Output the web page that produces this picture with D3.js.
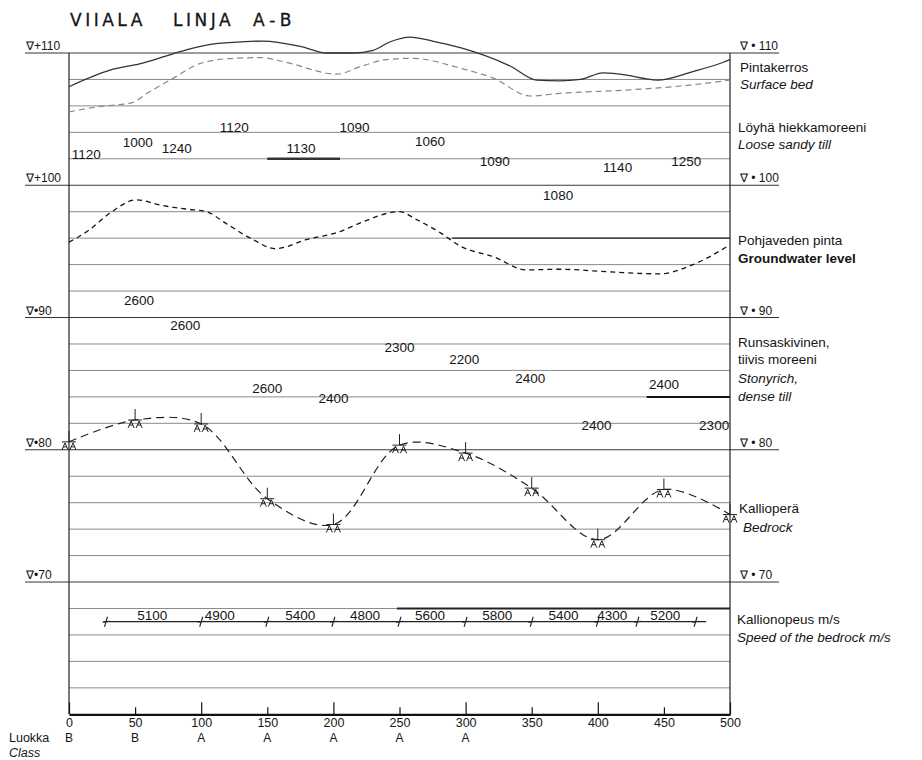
<!DOCTYPE html>
<html><head><meta charset="utf-8">
<script src="https://cdn.jsdelivr.net/npm/d3@7"></script>
<style>
body{margin:0;background:#fff}
svg{display:block}
text{font-family:"Liberation Sans",Arial,sans-serif;fill:#151515}
</style>
</head><body>
<svg id="c" width="922" height="760"></svg>
<script>
// ---------------- DATA ----------------
const distTicks = [0,50,100,150,200,250,300,350,400,450,500];
const classLabels = ["B","B","A","A","A","A","A"];
const elevLabels = [110,100,90,80,70];

// ground surface (solid)
const surfaceDist = [0,31,54,71,84,104,124,147,175,195,215,230,243,258,275,296,334,354,371,387,404,417,445,472,495,500];
const surfaceElev = [107.45,108.7,109.2,109.7,110.1,110.6,110.8,110.9,110.5,110.0,110.0,110.2,110.85,111.2,110.9,110.4,109.0,107.95,107.9,108.0,108.5,108.4,107.95,108.6,109.3,109.5];

// base of surface bed (grey dashed)
const bedDist = [0,23,48,59,79,99,124,145,162,203,220,240,260,296,321,349,371,422,472,500];
const bedElev = [105.55,105.95,106.25,106.95,108.1,109.2,109.6,109.65,109.35,108.4,108.95,109.5,109.6,108.85,108.1,106.75,106.95,107.2,107.6,107.95];

// groundwater level (black dashed)
const gwDist = [0,15,31,51,69,89,104,119,139,156,180,205,219,250,263,281,296,321,346,371,409,447,472,500];
const gwElev = [95.7,96.6,97.9,98.9,98.5,98.2,98.0,97.1,95.9,95.2,95.9,96.5,97.1,98.0,97.4,96.4,95.4,94.6,93.6,93.65,93.45,93.3,94.0,95.5];

// bedrock surface (dashed, with markers)
const rockDist = [0,50,100,150,200,250,300,350,400,450,500];
const rockElev = [80.6,82.25,81.95,76.3,74.35,80.35,79.75,77.1,73.2,77.0,75.1];

// loose sandy till velocities (m/s)
const looseVals = ["1120","1090","1060","1120","1000","1240","1130","1090","1140","1250","1080"];
const looseDist = [125,216,273,13,52,81.5,175.5,322,415,467,370];
const looseElev = [104.0,104.0,103.0,102.0,102.9,102.45,102.45,101.45,101.0,101.45,98.9];

// stony dense till velocities (m/s)
const denseVals = ["2600","2600","2300","2200","2600","2400","2400","2400","2400","2300"];
const denseDist = [53,88,250,299,150,200,349,450,399,488];
const denseElev = [90.95,89.05,87.4,86.45,84.3,83.5,85.05,84.6,81.5,81.5];

// bedrock speed row
const speedElev = 67;
const speedMarks = [28,100,150,200,250,300,350,400,430,474];
const speedRange = [26,482];
const speedValues = ["5100","4900","5400","4800","5600","5800","5400","4300","5200"];
const speedLabelDist = [63,114,175,224,273,324,374,411,451];

// ---------------- DRAW ----------------
const svg = d3.select("#c");
const x = d3.scaleLinear().domain([0,500]).range([69,730]);
const y = d3.scaleLinear().domain([60,110]).range([714.3,53]);

// title
const tStyle = s => s.style("font-family","DejaVu Sans, sans-serif").style("font-size","17px")
  .attr("stroke","#151515").attr("stroke-width",0.3);
tStyle(svg.append("text").attr("x",70).attr("y",26).attr("letter-spacing","3.5px").text("VIIALA"));
tStyle(svg.append("text").attr("x",173).attr("y",26).attr("letter-spacing","3.5px").text("LINJA"));
tStyle(svg.append("text").attr("x",253).attr("y",26).attr("letter-spacing","5px").text("A-B"));

// grid lines
const gridElevs = d3.range(62,111,2);
svg.append("g").selectAll("line").data(gridElevs).join("line")
  .attr("x1",x(0)).attr("x2",x(500))
  .attr("y1",d=>y(d)).attr("y2",d=>y(d))
  .attr("stroke",d=>d%10===0?"#3a3a3a":"#8a8a8a")
  .attr("stroke-width",d=>d%10===0?1.1:1);

// darker scan segments on some grid lines
[[96,290,500,1.4,"#222"],[84,437,500,2,"#111"],[68,248,500,1.8,"#222"],[102,150,205,2.5,"#333"]].forEach(s=>{
  svg.append("line").attr("x1",x(s[1])).attr("x2",x(s[2])).attr("y1",y(s[0])).attr("y2",y(s[0]))
    .attr("stroke",s[4]).attr("stroke-width",s[3]);
});

// frame verticals
svg.append("line").attr("x1",x(0)).attr("x2",x(0)).attr("y1",y(110)).attr("y2",y(60)).attr("stroke","#222").attr("stroke-width",1.2);
svg.append("line").attr("x1",x(500)).attr("x2",x(500)).attr("y1",y(110)).attr("y2",y(60)).attr("stroke","#222").attr("stroke-width",1.2);

// elevation labels left/right
const elevG = svg.append("g");
elevLabels.forEach(e=>{
  elevG.append("line").attr("x1",25).attr("x2",x(0)).attr("y1",y(e)).attr("y2",y(e)).attr("stroke","#333");
  elevG.append("line").attr("x1",x(500)).attr("x2",779).attr("y1",y(e)).attr("y2",y(e)).attr("stroke","#333");
  elevG.append("text").attr("x",26).attr("y",y(e)-3).attr("font-size",12)
    .text("\u2207" + (e>=100?"+":"\u2022") + e);
  elevG.append("text").attr("x",740).attr("y",y(e)-3).attr("font-size",12)
    .text("\u2207 \u2022 " + e);
});

// bottom axis
const axis = d3.axisBottom(x).tickValues(distTicks).tickSize(-12).tickSizeOuter(0).tickPadding(4);
const ag = svg.append("g").attr("transform",`translate(0,${y(60)})`).call(axis);
ag.select(".domain").attr("stroke","#111").attr("stroke-width",2.2);
ag.selectAll(".tick line").attr("stroke","#111").attr("stroke-width",1.2)
  .attr("y2",d=>d%100===0?-12:-7);
ag.selectAll(".tick text").attr("font-size",12.5).style("font-family","Liberation Sans, Arial, sans-serif").attr("fill","#151515");

// class row
svg.append("text").attr("x",9).attr("y",742).attr("font-size",12.5).text("Luokka");
svg.append("text").attr("x",9).attr("y",757).attr("font-size",12.5).attr("font-style","italic").text("Class");
svg.append("g").selectAll("text").data(classLabels).join("text")
  .attr("x",(d,i)=>x(distTicks[i])).attr("y",742).attr("text-anchor","middle").attr("font-size",12).text(d=>d);

// surface line
const lineGen = d3.line().x(d=>x(d[0])).y(d=>y(d[1])).curve(d3.curveMonotoneX);
svg.append("path").datum(surfaceDist.map((d,i)=>[d,surfaceElev[i]]))
  .attr("d",lineGen).attr("fill","none").attr("stroke","#333").attr("stroke-width",1.3);
// surface bed base
svg.append("path").datum(bedDist.map((d,i)=>[d,bedElev[i]]))
  .attr("d",lineGen).attr("fill","none").attr("stroke","#888").attr("stroke-width",1.2).attr("stroke-dasharray","6,4");
// groundwater
svg.append("path").datum(gwDist.map((d,i)=>[d,gwElev[i]]))
  .attr("d",lineGen).attr("fill","none").attr("stroke","#151515").attr("stroke-width",1.3).attr("stroke-dasharray","5,4");
// bedrock
const rockGen = d3.line().x(d=>x(d[0])).y(d=>y(d[1])).curve(d3.curveCatmullRom.alpha(0.5));
svg.append("path").datum(rockDist.map((d,i)=>[d,rockElev[i]]))
  .attr("d",rockGen).attr("fill","none").attr("stroke","#222").attr("stroke-width",1.2).attr("stroke-dasharray","8,5");
svg.append("g").selectAll("path").data(rockDist).join("path")
  .attr("transform",(d,i)=>`translate(${x(d)},${y(rockElev[i])})`)
  .attr("d","M0,-11V0M-7,0H7M-7,8L-4,1L-1,8M1,8L4,1L7,8M-6,5H-2M2,5H6")
  .attr("fill","none").attr("stroke","#222").attr("stroke-width",1);

// velocity labels
svg.append("g").selectAll("text").data(looseVals).join("text")
  .attr("x",(d,i)=>x(looseDist[i])).attr("y",(d,i)=>y(looseElev[i]))
  .attr("text-anchor","middle").attr("font-size",13.5).text(d=>d);
svg.append("g").selectAll("text").data(denseVals).join("text")
  .attr("x",(d,i)=>x(denseDist[i])).attr("y",(d,i)=>y(denseElev[i]))
  .attr("text-anchor","middle").attr("font-size",13.5).text(d=>d);

// speed row
svg.append("line").attr("x1",x(speedRange[0])).attr("x2",x(speedRange[1]))
  .attr("y1",y(speedElev)).attr("y2",y(speedElev)).attr("stroke","#222").attr("stroke-width",1.2);
svg.append("g").selectAll("path").data(speedMarks).join("path")
  .attr("transform",d=>`translate(${x(d)},${y(speedElev)})`)
  .attr("d","M-1.5,5L1.5,-5M-3.5,0.5L3.5,-0.5").attr("fill","none").attr("stroke","#222").attr("stroke-width",1.1);
svg.append("g").selectAll("text").data(speedValues).join("text")
  .attr("x",(d,i)=>x(speedLabelDist[i])).attr("y",y(speedElev)-1.5)
  .attr("text-anchor","middle").attr("font-size",13.5).text(d=>d);

// right side legend texts
const rt = [
  ["Pintakerros",740,72,"normal","normal"],
  ["Surface bed",740,89,"italic","normal"],
  ["Löyhä hiekkamoreeni",738,132,"normal","normal"],
  ["Loose sandy till",738,149,"italic","normal"],
  ["Pohjaveden pinta",738,245,"normal","normal"],
  ["Groundwater level",738,263,"normal","bold"],
  ["Runsaskivinen,",738,347,"normal","normal"],
  ["tiivis moreeni",738,364,"normal","normal"],
  ["Stonyrich,",738,383,"italic","normal"],
  ["dense till",738,401,"italic","normal"],
  ["Kallioperä",739,513,"normal","normal"],
  ["Bedrock",743,532,"italic","normal"],
  ["Kallionopeus m/s",737,624,"normal","normal"],
  ["Speed of the bedrock m/s",737,642,"italic","normal"]
];
svg.append("g").selectAll("text").data(rt).join("text")
  .attr("x",d=>d[1]).attr("y",d=>d[2]).attr("font-size",13.5)
  .attr("font-style",d=>d[3]).attr("font-weight",d=>d[4]).text(d=>d[0]);
</script>
</body></html>
